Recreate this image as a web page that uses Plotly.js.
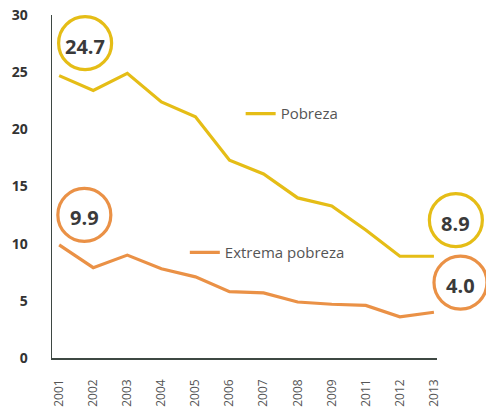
<!DOCTYPE html>
<html>
<head>
<meta charset="utf-8">
<script src="https://cdn.plot.ly/plotly-3.0.1.min.js"></script>
<style>
  html, body { margin: 0; padding: 0; background: #ffffff; }
  #chart { width: 486px; height: 408px; }
</style>
</head>
<body>
<div id="chart"></div>
<script>
// Data (percent of population)
const years = ["2001", "2002", "2003", "2004", "2005", "2006", "2007", "2008", "2009", "2011", "2012", "2013"];
const pobreza = [24.7, 23.4, 24.9, 22.4, 21.1, 17.3, 16.1, 14.0, 13.3, 11.2, 8.9, 8.9];
const extremaPobreza = [9.9, 7.9, 9.0, 7.8, 7.1, 5.8, 5.7, 4.9, 4.7, 4.6, 3.6, 4.0];
const seriesNames = ["Pobreza", "Extrema pobreza"];
const yTicks = [0, 5, 10, 15, 20, 25, 30];

const YELLOW = "#E5BD16";
const ORANGE = "#EA9146";
const FONT = "Open Sans, Noto Sans, sans-serif";

const traces = [
  {
    x: years, y: pobreza, name: seriesNames[0], type: "scatter", mode: "lines",
    line: { color: YELLOW, width: 3.2 }, legend: "legend", hoverinfo: "x+y"
  },
  {
    x: years, y: extremaPobreza, name: seriesNames[1], type: "scatter", mode: "lines",
    line: { color: ORANGE, width: 3.2 }, legend: "legend2", hoverinfo: "x+y"
  }
];

// circled value callouts (first and last values of each series)
const callouts = [
  { text: pobreza[0].toFixed(1), color: YELLOW, x: 0.086, y: 0.918 },
  { text: extremaPobreza[0].toFixed(1), color: ORANGE, x: 0.084, y: 0.417 },
  { text: pobreza[pobreza.length - 1].toFixed(1), color: YELLOW, x: 1.049, y: 0.402 },
  { text: extremaPobreza[extremaPobreza.length - 1].toFixed(1), color: ORANGE, x: 1.061, y: 0.220 }
];

const R = 26.5;
const shapes = callouts.map(c => ({
  type: "circle", xref: "paper", yref: "paper",
  xsizemode: "pixel", ysizemode: "pixel",
  xanchor: c.x, yanchor: c.y,
  x0: -R, x1: R, y0: -R, y1: R,
  line: { color: c.color, width: 3.2 },
  fillcolor: "rgba(255,255,255,0)",
  layer: "above"
}));

const annotations = callouts.map(c => ({
  text: "<b>" + c.text + "</b>",
  xref: "paper", yref: "paper", x: c.x, y: c.y,
  xanchor: "center", yanchor: "middle", yshift: -3,
  showarrow: false,
  font: { family: FONT, size: 20, color: "#3a3a3a" }
}));

const legendFont = { family: FONT, size: 15, color: "#555555" };

const layout = {
  width: 486, height: 408,
  margin: { l: 52, r: 49, t: 15, b: 50 },
  paper_bgcolor: "#ffffff", plot_bgcolor: "#ffffff",
  font: { family: FONT },
  showlegend: true,
  legend: {
    x: 0.49, y: 0.712, xanchor: "left", yanchor: "middle",
    bgcolor: "rgba(0,0,0,0)", borderwidth: 0, font: legendFont
  },
  legend2: {
    x: 0.345, y: 0.307, xanchor: "left", yanchor: "middle",
    bgcolor: "rgba(0,0,0,0)", borderwidth: 0, font: legendFont
  },
  xaxis: {
    type: "category", range: [-0.21, 11.09],
    showline: true, linecolor: "#3e4843", linewidth: 1.5,
    showgrid: false, zeroline: false, ticks: "",
    tickangle: -90, ticklabelstandoff: 15,
    tickfont: { family: FONT, size: 12, color: "#555555" }
  },
  yaxis: {
    range: [0, 30], tickvals: yTicks, ticktext: yTicks.map(String),
    showline: true, linecolor: "#3e4843", linewidth: 1.5,
    showgrid: false, zeroline: false, ticks: "",
    ticklabelstandoff: 20,
    tickfont: { family: FONT, size: 14, color: "#333333", weight: "bold" }
  },
  shapes: shapes,
  annotations: annotations
};

Plotly.newPlot("chart", traces, layout, { displayModeBar: false, staticPlot: true });
</script>
</body>
</html>
